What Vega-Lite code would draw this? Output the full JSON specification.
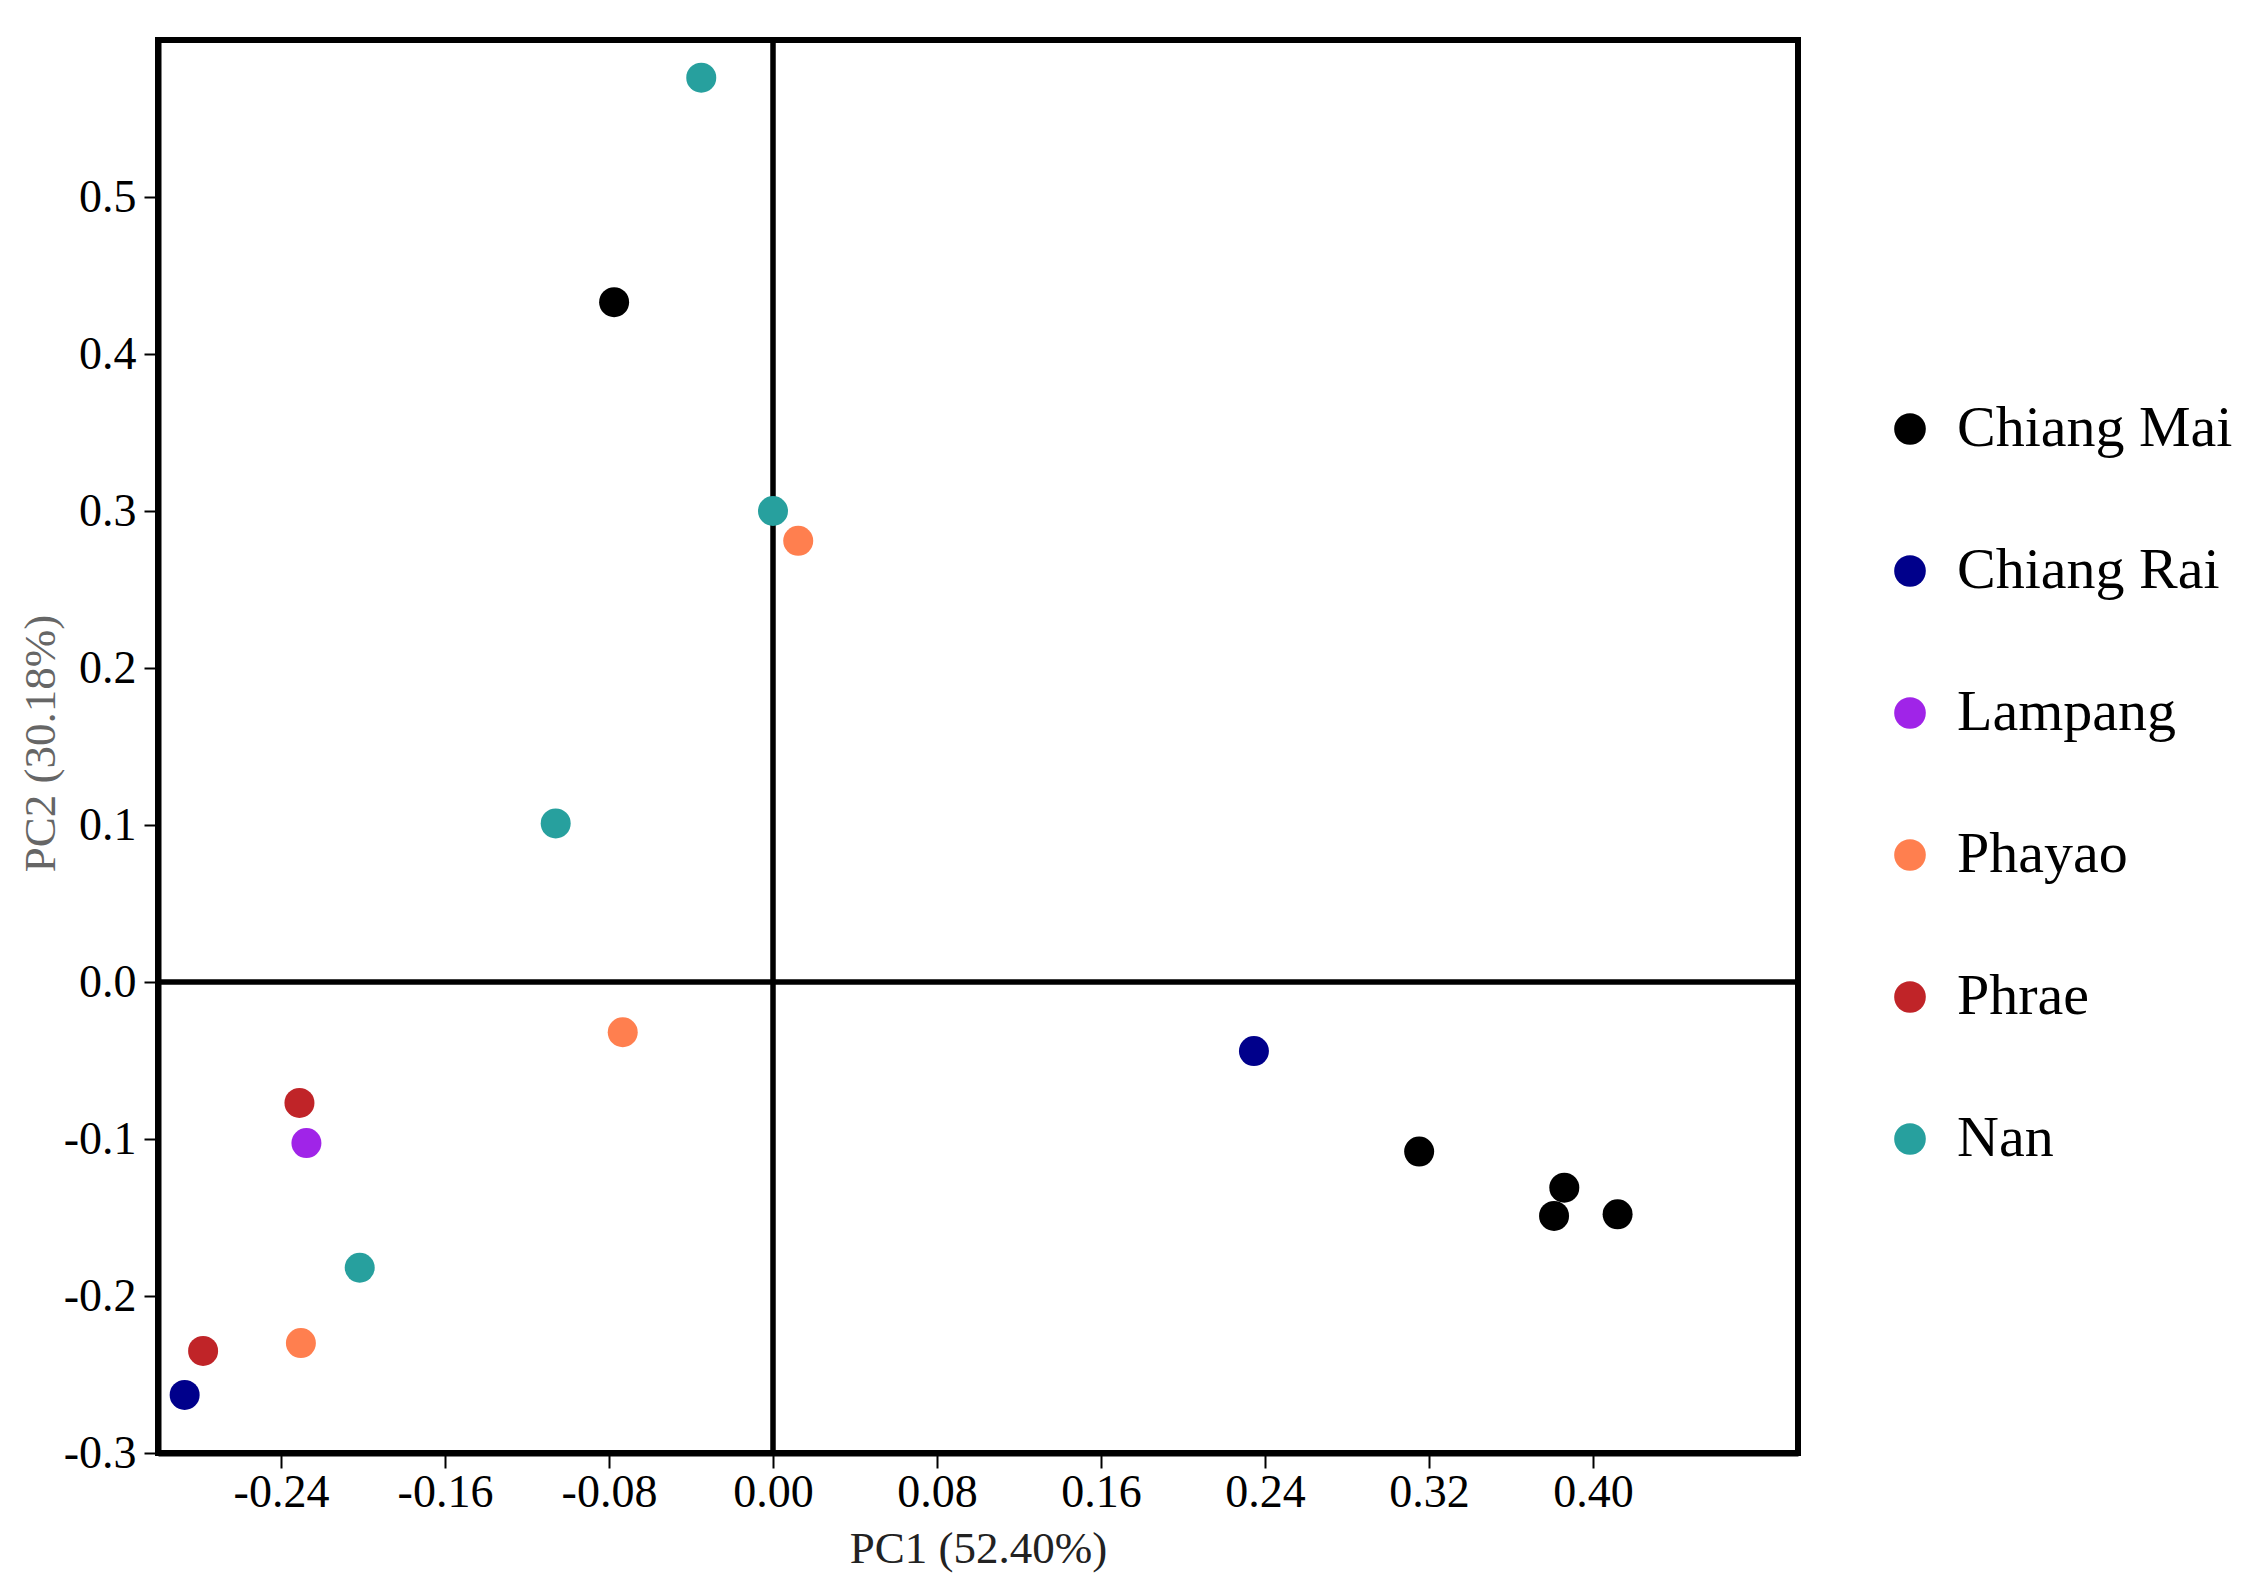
{
  "$schema": "https://vega.github.io/schema/vega-lite/v6.json",
  "width": 1640,
  "height": 1413,
  "autosize": {"type": "none"},
  "padding": {"left": 158, "top": 40, "right": 456, "bottom": 140},
  "background": "white",
  "config": {
    "font": "Liberation Serif",
    "view": {"stroke": "#000000", "strokeWidth": 6},
    "axis": {"grid": false, "domainColor": "#000000", "domainWidth": 6, "tickColor": "#000000", "tickWidth": 2, "labelColor": "#000000", "labelFont": "Liberation Serif", "titleFont": "Liberation Serif", "titleFontWeight": "normal"}
  },
  "datasets": {
    "pts": [
      {"region": "Nan", "PC1": -0.035, "PC2": 0.576},
      {"region": "Chiang Mai", "PC1": -0.0775, "PC2": 0.433},
      {"region": "Nan", "PC1": 0.0, "PC2": 0.300},
      {"region": "Phayao", "PC1": 0.0123, "PC2": 0.281},
      {"region": "Nan", "PC1": -0.106, "PC2": 0.101},
      {"region": "Phayao", "PC1": -0.0733, "PC2": -0.032},
      {"region": "Chiang Rai", "PC1": 0.2346, "PC2": -0.044},
      {"region": "Phrae", "PC1": -0.231, "PC2": -0.077},
      {"region": "Lampang", "PC1": -0.2276, "PC2": -0.1026},
      {"region": "Chiang Mai", "PC1": 0.3152, "PC2": -0.108},
      {"region": "Chiang Mai", "PC1": 0.386, "PC2": -0.131},
      {"region": "Chiang Mai", "PC1": 0.381, "PC2": -0.149},
      {"region": "Chiang Mai", "PC1": 0.412, "PC2": -0.148},
      {"region": "Nan", "PC1": -0.2016, "PC2": -0.182},
      {"region": "Phayao", "PC1": -0.2303, "PC2": -0.230},
      {"region": "Phrae", "PC1": -0.278, "PC2": -0.235},
      {"region": "Chiang Rai", "PC1": -0.287, "PC2": -0.263}
    ],
    "zero": [{"z": 0}]
  },
  "layer": [
    {
      "data": {"name": "zero"},
      "mark": {"type": "rule", "color": "#000000", "strokeWidth": 5.5},
      "encoding": {"x": {"field": "z", "type": "quantitative"}}
    },
    {
      "data": {"name": "zero"},
      "mark": {"type": "rule", "color": "#000000", "strokeWidth": 5.5},
      "encoding": {"y": {"field": "z", "type": "quantitative"}}
    },
    {
      "data": {"name": "pts"},
      "mark": {"type": "circle", "size": 900, "opacity": 1},
      "encoding": {
        "x": {
          "field": "PC1", "type": "quantitative",
          "scale": {"domain": [-0.3, 0.5], "nice": false, "zero": false},
          "axis": {
            "title": "PC1 (52.40%)",
            "values": [-0.24, -0.16, -0.08, 0, 0.08, 0.16, 0.24, 0.32, 0.40],
            "labelExpr": "replace(format(datum.value, '.2f'), '\u2212', '-')",
            "labelFontSize": 46, "tickSize": 15, "labelPadding": 2,
            "titleFontSize": 45, "titleColor": "#222222",
            "titleX": 820, "titleY": 95, "titleBaseline": "middle", "titleAlign": "center"
          }
        },
        "y": {
          "field": "PC2", "type": "quantitative",
          "scale": {"domain": [-0.3, 0.6], "nice": false, "zero": false},
          "axis": {
            "title": "PC2 (30.18%)",
            "values": [-0.3, -0.2, -0.1, 0, 0.1, 0.2, 0.3, 0.4, 0.5],
            "labelExpr": "replace(format(datum.value, '.1f'), '\u2212', '-')",
            "labelFontSize": 46, "tickSize": 14, "labelPadding": 8,
            "titleFontSize": 45, "titleColor": "#666666",
            "titleAngle": -90, "titleX": -118, "titleY": 703, "titleBaseline": "middle", "titleAlign": "center"
          }
        },
        "color": {
          "field": "region", "type": "nominal",
          "scale": {
            "domain": ["Chiang Mai", "Chiang Rai", "Lampang", "Phayao", "Phrae", "Nan"],
            "range": ["#000000", "#00008B", "#A024E8", "#FF7F4F", "#C02428", "#27A09E"]
          },
          "legend": {
            "title": null,
            "orient": "none",
            "legendX": 1723,
            "legendY": 360,
            "padding": 0,
            "symbolType": "circle",
            "symbolSize": 1000,
            "symbolStrokeWidth": 0,
            "symbolOpacity": 1,
            "labelFontSize": 58,
            "labelFont": "Liberation Serif",
            "labelColor": "#000000",
            "labelOffset": 18,
            "rowPadding": 84,
            "labelLimit": 500
          }
        }
      }
    }
  ]
}
